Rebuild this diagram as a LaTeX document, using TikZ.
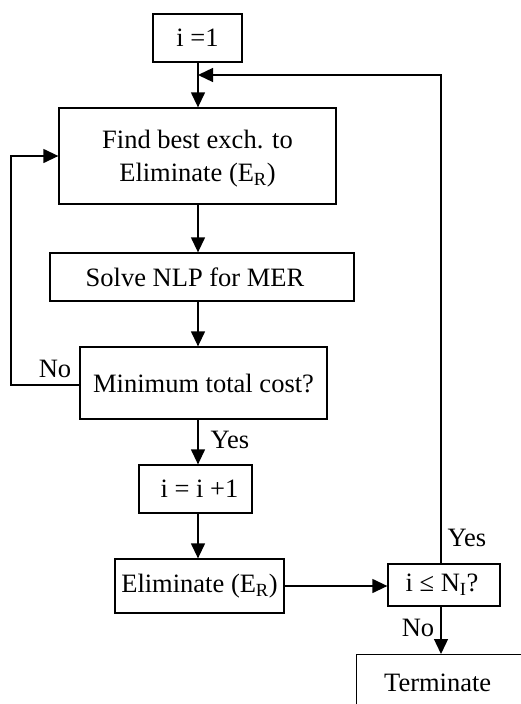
\documentclass[tikz,border=0pt]{standalone}
\usepackage{fontspec}
\setmainfont{Liberation Serif}
\usetikzlibrary{arrows.meta}
\begin{document}
\begin{tikzpicture}[x=1pt,y=-1pt,
  box/.style={draw,line width=1.3pt,inner sep=0pt,align=center,font=\fontsize{26.5}{33}\selectfont},
  lbl/.style={inner sep=0pt,font=\fontsize{26.5}{33}\selectfont},
  arr/.style={line width=1.3pt,-{Triangle[length=15pt,width=14pt]}}]
\useasboundingbox (0,0) rectangle (521,704);
\clip (0,0) rectangle (521,704);
\node[box,minimum width=89pt,minimum height=48pt] (one) at (197.5,38) {i =1};
\node[box,minimum width=277pt,minimum height=96pt] (find) at (197.5,156) {\rule{0pt}{24pt}Find best exch. to\\Eliminate (E\textsubscript{R})};
\node[box,minimum width=304pt,minimum height=48pt] (solve) at (202,277) {\hspace*{-14pt}Solve NLP for MER};
\node[box,minimum width=247pt,minimum height=72pt] (min) at (203.5,383) {Minimum total cost?};
\node[box,minimum width=113pt,minimum height=48pt] (inc) at (195.5,489) {\hspace*{8pt}i = i +1};
\node[box,minimum width=169pt,minimum height=54pt] (elim) at (199.5,586) {Eliminate (E\textsubscript{R})};
\node[box,minimum width=112pt,minimum height=42pt] (test) at (444,585) {\hspace*{-4pt}i ≤ N\textsubscript{I}?};
\node[box,anchor=north west,minimum width=180pt,minimum height=56pt] (term) at (356,654) {\hspace*{-18pt}Terminate};
\coordinate (fb) at (441,75);
\coordinate (nl) at (11,385);
\coordinate (sp) at (198,0);
\draw[arr] (one.south -| sp) -- (find.north -| sp);
\draw[arr] (find.south -| sp) -- (solve.north -| sp);
\draw[arr] (solve.south -| sp) -- (min.north -| sp);
\draw[arr] (min.south -| sp) -- (inc.north -| sp);
\draw[arr] (inc.south -| sp) -- (elim.north -| sp);
\draw[arr] (elim.east) -- (elim.east -| test.west);
\draw[arr] (test.south -| fb) -- (term.north -| fb);
\draw[arr] (test.north -| fb) -- (fb) -- (fb -| sp);
\draw[arr] (min.west |- nl) -- (nl) -- (nl |- find.west) -- (find.west);
\node[lbl] (no1) at (55,369) {No};
\node[lbl] (yes1) at (230,440) {Yes};
\node[lbl] (yes2) at (467,538) {Yes};
\node[lbl] (no2) at (418,628) {No};
\end{tikzpicture}
\end{document}
